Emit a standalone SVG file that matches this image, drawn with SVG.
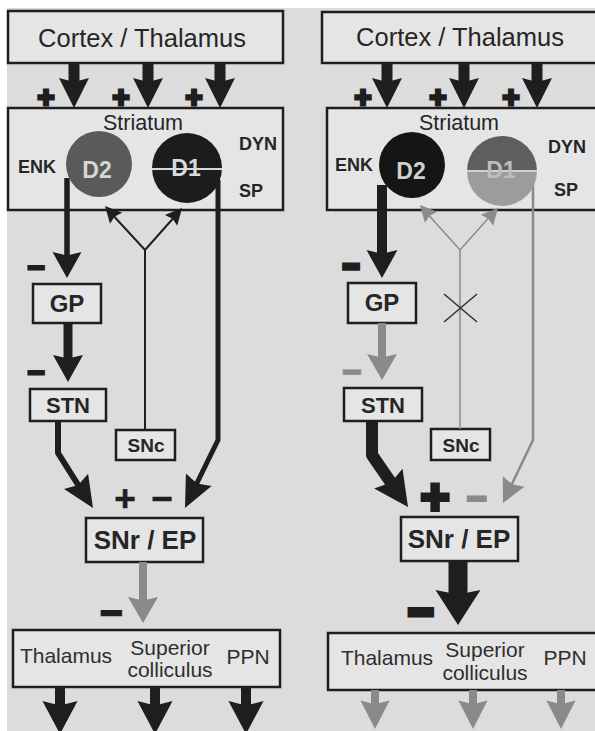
<svg xmlns="http://www.w3.org/2000/svg" xmlns:xlink="http://www.w3.org/1999/xlink" width="595" height="731" viewBox="0 0 595 731">
<style>
.box{fill:#e5e5e5;stroke:#1e1e1e;stroke-width:2.5}
.t{font-family:"Liberation Sans",Arial,sans-serif;fill:#262626;text-anchor:middle}
.big{font-size:25.5px}
.node{font-weight:bold}
.out{font-size:21px;fill:#2e2e2e}
.lbl{font-size:18px;font-weight:bold}
.dl{font-size:23px;font-weight:bold}
.k{fill:#1e1e1e}
.g{fill:#8a8a8a}
.ks{stroke:#1e1e1e;fill:none}
.gs{stroke:#8a8a8a;fill:none}
.sign{font-family:"Liberation Sans","DejaVu Sans",sans-serif;font-weight:bold;text-anchor:middle;dominant-baseline:central}
.sk{fill:#1e1e1e;stroke:#1e1e1e}
.sg{fill:#8a8a8a;stroke:#8a8a8a}
</style>
<defs>
<path id="h" d="M0,0 L-15,-30 L0,-26 L15,-30 Z"/>
</defs>
<rect x="0" y="0" width="595" height="731" fill="#ffffff"/>
<rect x="7" y="8" width="588" height="723" fill="#dcdcdc"/>

<!-- LEFT PANEL boxes -->
<g id="left-cortex">
<rect class="box" x="8" y="11" width="275" height="52"/>
<text class="t big" x="142" y="47">Cortex / Thalamus</text>
</g>
<g id="left-striatum">
<rect class="box" x="8" y="108" width="275" height="102"/>
<text class="t" x="143" y="130" font-size="21.5">Striatum</text>
<text class="t lbl" x="37" y="173">ENK</text>
<text class="t lbl" x="258" y="150">DYN</text>
<text class="t lbl" x="251" y="197">SP</text>
</g>
<g id="left-gp"><rect class="box" x="33" y="284" width="68" height="39"/><text class="t node" x="67" y="312" font-size="24">GP</text></g>
<g id="left-stn"><rect class="box" x="30" y="389" width="76" height="32"/><text class="t node" x="68" y="413" font-size="22">STN</text></g>
<g id="left-snc"><rect class="box" x="116" y="430" width="59" height="30"/><text class="t node" x="146" y="452" font-size="19">SNc</text></g>
<g id="left-snr"><rect class="box" x="86" y="518" width="117" height="44"/><text class="t node" x="145" y="549" font-size="26">SNr / EP</text></g>
<g id="left-output">
<rect class="box" x="13" y="630" width="267" height="57"/>
<text class="t out" x="66" y="663">Thalamus</text>
<text class="t out" x="170" y="655">Superior</text>
<text class="t out" x="170" y="677">colliculus</text>
<text class="t out" x="248" y="664">PPN</text>
</g>

<!-- RIGHT PANEL boxes -->
<g id="right-cortex">
<rect class="box" x="322" y="12" width="280" height="51"/>
<text class="t big" x="460" y="46">Cortex / Thalamus</text>
</g>
<g id="right-striatum">
<rect class="box" x="327" y="108" width="275" height="102"/>
<text class="t" x="459" y="130" font-size="21.5">Striatum</text>
<text class="t lbl" x="354" y="171">ENK</text>
<text class="t lbl" x="567" y="153">DYN</text>
<text class="t lbl" x="566" y="196">SP</text>
</g>
<g id="right-gp"><rect class="box" x="348" y="283" width="68" height="40"/><text class="t node" x="382" y="311" font-size="24">GP</text></g>
<g id="right-stn"><rect class="box" x="344" y="388" width="78" height="33"/><text class="t node" x="383" y="413" font-size="22">STN</text></g>
<g id="right-snc"><rect class="box" x="431" y="429" width="59" height="31"/><text class="t node" x="461" y="452" font-size="19">SNc</text></g>
<g id="right-snr"><rect class="box" x="401" y="517" width="117" height="44"/><text class="t node" x="459" y="548" font-size="26">SNr / EP</text></g>
<g id="right-output">
<rect class="box" x="328" y="633" width="272" height="57"/>
<text class="t out" x="387" y="665">Thalamus</text>
<text class="t out" x="485" y="657">Superior</text>
<text class="t out" x="485" y="680">colliculus</text>
<text class="t out" x="565" y="665">PPN</text>
</g>

<!-- CONNECTORS -->
<g id="connectors">
<!-- left cortex to striatum -->
<rect class="k" x="68.5" y="63" width="11" height="20"/><use xlink:href="#h" class="k" transform="translate(74,108)"/>
<rect class="k" x="142.5" y="63" width="11" height="20"/><use xlink:href="#h" class="k" transform="translate(148,108)"/>
<rect class="k" x="214.5" y="63" width="11" height="20"/><use xlink:href="#h" class="k" transform="translate(220,108)"/>
<!-- right cortex to striatum -->
<rect class="k" x="381.5" y="63" width="11" height="20"/><use xlink:href="#h" class="k" transform="translate(387,108)"/>
<rect class="k" x="458.5" y="63" width="11" height="20"/><use xlink:href="#h" class="k" transform="translate(464,108)"/>
<rect class="k" x="531.5" y="63" width="11" height="20"/><use xlink:href="#h" class="k" transform="translate(537,108)"/>

<!-- left D2 -> GP -->
<line class="ks" x1="67" y1="178" x2="67" y2="258" stroke-width="5.5"/>
<use xlink:href="#h" class="k" transform="translate(67,278) scale(0.97,0.87)"/>
<!-- left GP -> STN -->
<line class="ks" x1="68" y1="323" x2="68" y2="362" stroke-width="9"/>
<use xlink:href="#h" class="k" transform="translate(68,382) scale(1,0.9)"/>
<!-- left STN -> SNr -->
<polyline class="ks" points="58,421 58,453 82,491" stroke-width="6" stroke-linejoin="round"/>
<use xlink:href="#h" class="k" transform="translate(93,508) rotate(-32.5) scale(0.95,1.05)"/>
<!-- left D1 -> SNr -->
<polyline class="ks" points="218,180 218,440 195,487" stroke-width="5" stroke-linejoin="round"/>
<use xlink:href="#h" class="k" transform="translate(185,508) rotate(25.9) scale(0.95,1.05)"/>
<!-- left SNc -> striatum -->
<path class="ks" d="M145,430 V250 M110,212 L145,250 L177,214" stroke-width="2"/>
<use xlink:href="#h" class="k" transform="translate(105,206) rotate(137.7) scale(0.55,0.55)"/>
<use xlink:href="#h" class="k" transform="translate(182,208) rotate(-138.6) scale(0.55,0.55)"/>
<!-- left SNr -> output -->
<line class="gs" x1="143" y1="562" x2="143" y2="602" stroke-width="8"/>
<use xlink:href="#h" class="g" transform="translate(143,623) scale(1,0.87)"/>
<!-- left output arrows -->
<rect class="k" x="55" y="687" width="10" height="22"/><use xlink:href="#h" class="k" transform="translate(60,734) scale(1.17,1.1)"/>
<rect class="k" x="150" y="687" width="10" height="22"/><use xlink:href="#h" class="k" transform="translate(155,734) scale(1.17,1.1)"/>
<rect class="k" x="241" y="687" width="10" height="22"/><use xlink:href="#h" class="k" transform="translate(246,734) scale(1.17,1.1)"/>

<!-- right D2 -> GP -->
<line class="ks" x1="382" y1="185" x2="382" y2="256" stroke-width="10"/>
<use xlink:href="#h" class="k" transform="translate(382,278) scale(1.03,0.93)"/>
<!-- right GP -> STN (grey) -->
<line class="gs" x1="382" y1="323" x2="382" y2="360" stroke-width="8"/>
<use xlink:href="#h" class="g" transform="translate(382,380) scale(1,0.87)"/>
<!-- right STN -> SNr (thick) -->
<polyline class="ks" points="372,421 372,455 394,487" stroke-width="12" stroke-linejoin="round"/>
<use xlink:href="#h" class="k" transform="translate(408,507) rotate(-34.7) scale(1.15,1.15)"/>
<!-- right D1 -> SNr (grey thin) -->
<polyline class="gs" points="533,185 533,440 510,488" stroke-width="2.5" stroke-linejoin="round"/>
<use xlink:href="#h" class="g" transform="translate(503,503) rotate(26) scale(0.8,0.8)"/>
<!-- right SNc -> striatum (grey thin, blocked) -->
<path class="gs" d="M460,429 V250 M425,211 L460,250 L493,213" stroke-width="1.5"/>
<use xlink:href="#h" class="g" transform="translate(420,205) rotate(138) scale(0.55,0.55)"/>
<use xlink:href="#h" class="g" transform="translate(498,208) rotate(-138) scale(0.55,0.55)"/>
<path d="M444,294 L477,322 M444,322 L477,294" stroke="#333" stroke-width="1.6" fill="none"/>
<!-- right SNr -> output (thick) -->
<rect class="k" x="448.5" y="561" width="19" height="36"/>
<use xlink:href="#h" class="k" transform="translate(458,625) scale(1.5,1.17)"/>
<!-- right output arrows (grey) -->
<rect class="g" x="371" y="690" width="8" height="15"/><use xlink:href="#h" class="g" transform="translate(375,729) scale(0.97,0.95)"/>
<rect class="g" x="469" y="690" width="8" height="15"/><use xlink:href="#h" class="g" transform="translate(473,729) scale(0.97,0.95)"/>
<rect class="g" x="557" y="690" width="8" height="15"/><use xlink:href="#h" class="g" transform="translate(561,729) scale(0.97,0.95)"/>

<!-- signs left -->
<text class="sign sk" x="46" y="96.5" font-size="29" stroke-width="3">+</text>
<text class="sign sk" x="121" y="96.5" font-size="29" stroke-width="3">+</text>
<text class="sign sk" x="194" y="96.5" font-size="29" stroke-width="3">+</text>
<text class="sign sk" x="36" y="267" font-size="31" stroke-width="2">−</text>
<text class="sign sk" x="36" y="372" font-size="31" stroke-width="2">−</text>
<text class="sign sk" x="125" y="498" font-size="37" stroke-width="0.5">+</text>
<text class="sign sk" x="162" y="498" font-size="37" stroke-width="0.5">−</text>
<text class="sign sk" x="111" y="613" font-size="38" stroke-width="2.3">−</text>
<!-- signs right -->
<text class="sign sk" x="363" y="96.5" font-size="29" stroke-width="3">+</text>
<text class="sign sk" x="438" y="96.5" font-size="29" stroke-width="3">+</text>
<text class="sign sk" x="511" y="96.5" font-size="29" stroke-width="3">+</text>
<text class="sign sk" x="351" y="266" font-size="25" stroke-width="5.5">−</text>
<text class="sign sg" x="352" y="371" font-size="33" stroke-width="1.8">−</text>
<text class="sign sk" x="435" y="497" font-size="50" stroke-width="4">+</text>
<text class="sign sg" x="477" y="498" font-size="34" stroke-width="2.8">−</text>
<text class="sign sk" x="421" y="612" font-size="41" stroke-width="6">−</text>
</g>

<!-- striatal cell populations -->
<g id="left-d2">
<circle cx="99" cy="164" r="33" fill="#5a5a5a"/>
<text class="t dl" x="97" y="178" style="fill:#d6d6d6">D2</text>
</g>
<g id="left-d1">
<circle cx="187" cy="168" r="35" fill="#1c1c1c"/>
<line x1="152" y1="169" x2="222" y2="169" stroke="#d8d8d8" stroke-width="2"/>
<text class="t dl" x="186" y="176" style="fill:#dadada">D1</text>
</g>
<g id="right-d2">
<circle cx="412" cy="165" r="33" fill="#151515"/>
<text class="t dl" x="411" y="179" style="fill:#d0d0d0">D2</text>
</g>
<g id="right-d1">
<path d="M467,171 A35,35 0 0 1 537,171 Z" fill="#5e5e5e"/>
<path d="M467,171 A35,35 0 0 0 537,171 Z" fill="#9c9c9c"/>
<line x1="467" y1="171" x2="537" y2="171" stroke="#d0d0d0" stroke-width="2"/>
<text class="t dl" x="501" y="178" style="fill:#bdbdbd">D1</text>
</g>
</svg>
